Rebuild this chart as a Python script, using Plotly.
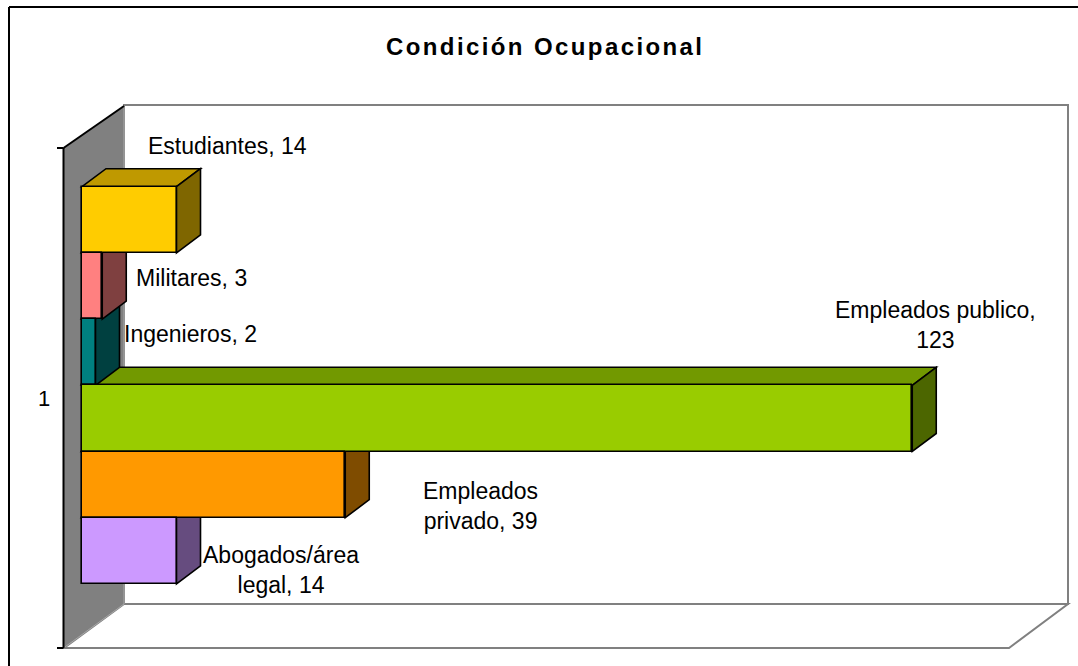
import plotly.graph_objects as go

# ---------------- data ----------------
categories = ["Estudiantes", "Militares", "Ingenieros",
              "Empleados publico", "Empleados privado", "Abogados/área legal"]
values = [14, 3, 2, 123, 39, 14]
label_texts = ["Estudiantes, 14", "Militares, 3", "Ingenieros, 2",
               "Empleados publico,<br>123", "Empleados<br>privado, 39",
               "Abogados/área<br>legal, 14"]
category_tick_labels = ["1"]
title_text = "Condición Ocupacional"
x_max = 140

# ---------------- styles ----------------
front_colors = ["#FFCC00", "#FF8080", "#008080", "#99CC00", "#FF9900", "#CC99FF"]
label_xshift = [51, 89, 95, 23, 135, 104]
label_yshift = [74, 8, 18, 93, -21, -19]

W, H = 1078, 666
PX = 6.75          # pixels per value unit
X0 = 82.0          # pixel x of value 0 on bar front face
Y0 = 186.7         # pixel y of top of first bar slot
SH = 66.2          # pixel height of a bar slot
DXP, DYP = 24.0, -18.0   # bar depth offset in px
FONT = "Liberation Sans, Arial, sans-serif"


def shade(hexcol, f):
    h = hexcol.lstrip("#")
    r, g, b = (int(h[i:i + 2], 16) for i in (0, 2, 4))
    return "#%02X%02X%02X" % (int(r * f), int(g * f), int(b * f))


def px2x(px):
    return (px - X0) / PX


def py2y(py):
    return (py - Y0) / SH


def path(points):
    return "M " + " L ".join(f"{x:.4f},{y:.4f}" for x, y in points) + " Z"


n = len(values)
slots = [i + 0.5 for i in range(n)]

fig = go.Figure()
fig.add_trace(go.Bar(
    orientation="h", x=values, y=slots, width=1.0, base=0,
    marker=dict(color=front_colors, line=dict(color="black", width=1.6)),
    hoverinfo="skip", showlegend=False,
))

shapes = []
# back wall
bw = [(124, 105), (1068, 105), (1068, 604), (124, 604)]
shapes.append(dict(type="path", xref="x", yref="y", layer="below",
                   path=path([(px2x(a), py2y(b)) for a, b in bw]),
                   fillcolor="white", line=dict(color="#808080", width=2)))
# floor
fl = [(64, 648), (124, 604), (1068, 604), (1009, 648)]
shapes.append(dict(type="path", xref="x", yref="y", layer="below",
                   path=path([(px2x(a), py2y(b)) for a, b in fl]),
                   fillcolor="white", line=dict(color="#808080", width=2)))
# left wall
lw = [(63.5, 148), (124, 106), (124, 604), (63.5, 648)]
shapes.append(dict(type="path", xref="x", yref="y", layer="below",
                   path=path([(px2x(a), py2y(b)) for a, b in lw]),
                   fillcolor="#808080", line=dict(color="#A8A8A8", width=1)))
# axis line, top edge, ticks
for (a0, b0, a1, b1) in [(63.5, 148, 63.5, 648), (63.5, 148, 124, 106),
                         (57, 148, 63.5, 148), (57, 648, 63.5, 648)]:
    shapes.append(dict(type="line", xref="x", yref="y", layer="below",
                       x0=px2x(a0), y0=py2y(b0), x1=px2x(a1), y1=py2y(b1),
                       line=dict(color="black", width=2)))

# 3D faces (bottom bar first so upper bars overlap)
ddx = DXP / PX
ddy = DYP / SH
for i in reversed(range(n)):
    v = values[i]
    top, bot = i, i + 1
    shapes.append(dict(type="path", xref="x", yref="y", layer="below",
                       path=path([(0, top), (ddx, top + ddy), (v + ddx, top + ddy), (v, top)]),
                       fillcolor=shade(front_colors[i], 0.75),
                       line=dict(color="black", width=1.6)))
    shapes.append(dict(type="path", xref="x", yref="y", layer="below",
                       path=path([(v, top), (v + ddx, top + ddy), (v + ddx, bot + ddy), (v, bot)]),
                       fillcolor=shade(front_colors[i], 0.5),
                       line=dict(color="black", width=1.6)))

# outer chart border (left & top visible)
shapes.append(dict(type="line", xref="paper", yref="paper",
                   x0=9 / W, y0=1 - 7 / H, x1=9 / W, y1=-0.05,
                   line=dict(color="black", width=2)))
shapes.append(dict(type="line", xref="paper", yref="paper",
                   x0=9 / W, y0=1 - 7 / H, x1=1.05, y1=1 - 7 / H,
                   line=dict(color="black", width=2)))

annotations = []
for i in range(n):
    annotations.append(dict(
        x=values[i], y=slots[i], xref="x", yref="y", text=label_texts[i],
        showarrow=False, xanchor="center", yanchor="middle",
        xshift=label_xshift[i], yshift=label_yshift[i],
        font=dict(family=FONT, size=23, color="black"), align="center"))
# category tick label
annotations.append(dict(x=44 / W, y=1 - 398 / H, xref="paper", yref="paper",
                        text=category_tick_labels[0], showarrow=False,
                        xanchor="center", yanchor="middle",
                        font=dict(family=FONT, size=22, color="black")))
# title
annotations.append(dict(x=545 / W, y=1 - 46 / H, xref="paper", yref="paper",
                        text=f'<span style="letter-spacing:2.4px"><b>{title_text}</b></span>',
                        showarrow=False, xanchor="center", yanchor="middle",
                        font=dict(family=FONT, size=24, color="black")))

fig.update_layout(
    width=W, height=H, autosize=False,
    margin=dict(l=0, r=0, t=0, b=0, pad=0),
    paper_bgcolor="white", plot_bgcolor="rgba(0,0,0,0)",
    xaxis=dict(range=[px2x(0), px2x(W)], visible=False, showgrid=False,
               zeroline=False, fixedrange=True),
    yaxis=dict(range=[py2y(H), py2y(0)], visible=False, showgrid=False,
               zeroline=False, fixedrange=True),
    shapes=shapes, annotations=annotations, showlegend=False,
    bargap=0,
)

fig.write_html("out.html", config={"displayModeBar": False},
               post_script="document.body.style.margin='0';document.body.style.overflow='hidden';")
